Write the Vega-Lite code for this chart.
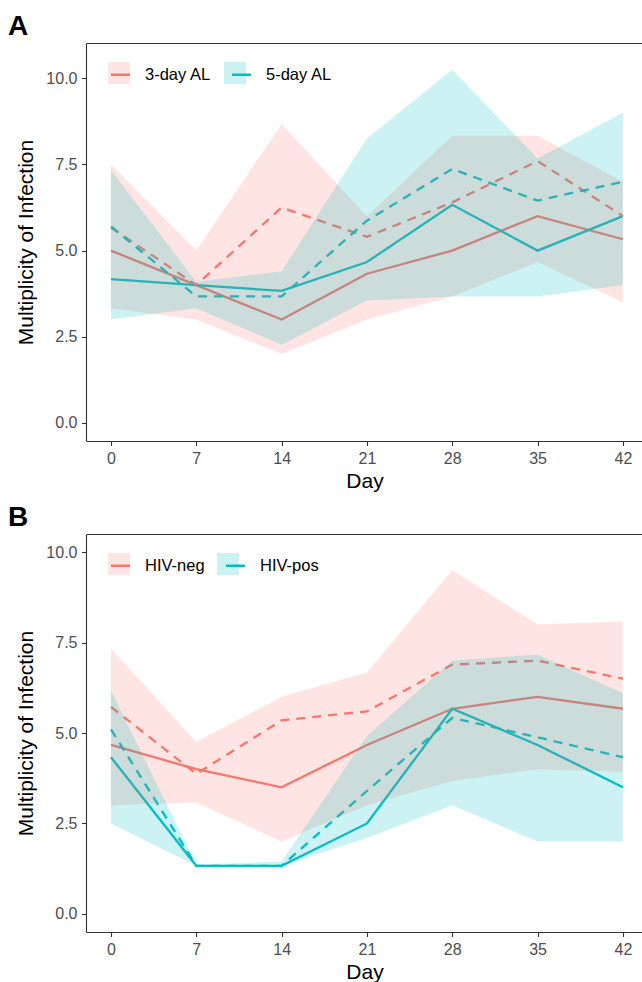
{
  "$schema": "https://vega.github.io/schema/vega-lite/v6.json",
  "padding": {"left": 8, "top": 13, "right": 0, "bottom": 0},
  "background": "white",
  "config": {
    "font": "Liberation Sans",
    "view": {"stroke": null},
    "axis": {
      "grid": false,
      "labelFont": "Liberation Sans",
      "labelFontSize": 16,
      "labelColor": "#4D4D4D",
      "labelPadding": 4.5,
      "tickColor": "#333333",
      "tickSize": 4.5,
      "tickWidth": 1.1,
      "domainColor": "#333333",
      "domainWidth": 1.1,
      "titleFont": "Liberation Sans",
      "titleFontSize": 21,
      "titleFontWeight": "normal",
      "titleColor": "#000000"
    },
    "title": {"font": "Liberation Sans", "fontSize": 28, "fontWeight": "bold", "color": "#000000", "anchor": "start", "frame": "group", "dx": -78, "offset": 2},
    "concat": {"spacing": 13}
  },
  "resolve": {
    "scale": {"stroke": "independent", "fill": "independent"},
    "legend": {"stroke": "independent", "fill": "independent"}
  },
  "datasets": {
    "a": [
      {"group": "3-day AL", "day": 0, "median": 5.0, "mean": 5.67, "lo": 3.33, "hi": 7.5},
      {"group": "3-day AL", "day": 7, "median": 4.0, "mean": 4.0, "lo": 3.0, "hi": 5.0},
      {"group": "3-day AL", "day": 14, "median": 3.0, "mean": 6.25, "lo": 2.0, "hi": 8.67},
      {"group": "3-day AL", "day": 21, "median": 4.33, "mean": 5.4, "lo": 3.0, "hi": 6.0},
      {"group": "3-day AL", "day": 28, "median": 5.0, "mean": 6.4, "lo": 3.67, "hi": 8.33},
      {"group": "3-day AL", "day": 35, "median": 6.0, "mean": 7.6, "lo": 4.67, "hi": 8.33},
      {"group": "3-day AL", "day": 42, "median": 5.33, "mean": 6.0, "lo": 3.5, "hi": 7.0},
      {"group": "5-day AL", "day": 0, "median": 4.17, "mean": 5.7, "lo": 3.0, "hi": 7.33},
      {"group": "5-day AL", "day": 7, "median": 4.0, "mean": 3.67, "lo": 3.33, "hi": 4.1},
      {"group": "5-day AL", "day": 14, "median": 3.83, "mean": 3.67, "lo": 2.27, "hi": 4.4},
      {"group": "5-day AL", "day": 21, "median": 4.67, "mean": 5.87, "lo": 3.55, "hi": 8.25},
      {"group": "5-day AL", "day": 28, "median": 6.33, "mean": 7.37, "lo": 3.67, "hi": 10.25},
      {"group": "5-day AL", "day": 35, "median": 5.0, "mean": 6.45, "lo": 3.67, "hi": 7.67},
      {"group": "5-day AL", "day": 42, "median": 6.0, "mean": 7.0, "lo": 4.0, "hi": 9.0}
    ],
    "b": [
      {"group": "HIV-neg", "day": 0, "median": 4.67, "mean": 5.72, "lo": 3.0, "hi": 7.33},
      {"group": "HIV-neg", "day": 7, "median": 4.0, "mean": 3.87, "lo": 3.08, "hi": 4.75},
      {"group": "HIV-neg", "day": 14, "median": 3.5, "mean": 5.35, "lo": 2.0, "hi": 6.0},
      {"group": "HIV-neg", "day": 21, "median": 4.67, "mean": 5.6, "lo": 3.0, "hi": 6.67},
      {"group": "HIV-neg", "day": 28, "median": 5.67, "mean": 6.89, "lo": 3.67, "hi": 9.5},
      {"group": "HIV-neg", "day": 35, "median": 6.0, "mean": 7.0, "lo": 4.0, "hi": 8.0},
      {"group": "HIV-neg", "day": 42, "median": 5.67, "mean": 6.5, "lo": 3.92, "hi": 8.08},
      {"group": "HIV-pos", "day": 0, "median": 4.33, "mean": 5.1, "lo": 2.5, "hi": 6.17},
      {"group": "HIV-pos", "day": 7, "median": 1.33, "mean": 1.33, "lo": 1.33, "hi": 1.36},
      {"group": "HIV-pos", "day": 14, "median": 1.33, "mean": 1.33, "lo": 1.33, "hi": 1.45},
      {"group": "HIV-pos", "day": 21, "median": 2.5, "mean": 3.4, "lo": 2.1, "hi": 4.92},
      {"group": "HIV-pos", "day": 28, "median": 5.67, "mean": 5.42, "lo": 3.0, "hi": 7.0},
      {"group": "HIV-pos", "day": 35, "median": 4.67, "mean": 4.88, "lo": 2.0, "hi": 7.17},
      {"group": "HIV-pos", "day": 42, "median": 3.5, "mean": 4.33, "lo": 2.0, "hi": 6.1}
    ]
  },
  "vconcat": [
    {
      "title": {"text": "A"},
      "width": 557,
      "height": 398,
      "data": {"name": "a"},
      "resolve": {"axis": {"x": "independent"}},
      "layer": [
        {
          "mark": {"type": "line", "strokeWidth": 2.3},
          "encoding": {
            "x": {"field": "day", "type": "quantitative", "scale": {"domain": [-2.05, 43.65], "nice": false, "zero": false},
                  "axis": {"orient": "top", "labels": false, "ticks": false, "title": null, "domain": true}},
            "y": {"field": "median", "type": "quantitative", "scale": {"domain": [-0.525, 11.025], "nice": false, "zero": false},
                  "axis": {"values": [0, 2.5, 5, 7.5, 10], "format": ".1f", "title": "Multiplicity of Infection", "titlePadding": 9}},
            "stroke": {"field": "group", "type": "nominal", "scale": {"range": ["#F8766D", "#00BFC4"]},
                       "legend": {"orient": "none", "legendX": 23.5, "legendY": 20.5, "direction": "horizontal", "title": null, "symbolType": "stroke", "symbolSize": 361, "symbolStrokeWidth": 2.5, "labelFontSize": 16.5, "labelColor": "#000000", "labelOffset": 13.5, "columnPadding": 15, "padding": 0}}
          }
        },
        {
          "mark": {"type": "line", "strokeWidth": 2.3, "strokeDash": [9, 7]},
          "encoding": {
            "x": {"field": "day", "type": "quantitative", "axis": null},
            "y": {"field": "mean", "type": "quantitative",
                  "axis": {"values": [0, 2.5, 5, 7.5, 10], "format": ".1f", "title": "Multiplicity of Infection", "titlePadding": 9}},
            "stroke": {"field": "group", "type": "nominal"}
          }
        },
        {
          "mark": {"type": "area", "opacity": 0.2},
          "encoding": {
            "x": {"field": "day", "type": "quantitative", "title": "Day",
                  "axis": {"values": [0, 7, 14, 21, 28, 35, 42], "titlePadding": 4}},
            "y": {"field": "lo", "type": "quantitative",
                  "axis": {"values": [0, 2.5, 5, 7.5, 10], "format": ".1f", "title": "Multiplicity of Infection", "titlePadding": 9}},
            "y2": {"field": "hi"},
            "fill": {"field": "group", "type": "nominal", "scale": {"domain": ["3-day AL", "5-day AL"], "range": ["#F8766D", "#00BFC4"]},
                     "legend": {"orient": "none", "legendX": 22, "legendY": 19, "direction": "horizontal", "title": null, "symbolType": "square", "symbolSize": 484, "symbolOpacity": 0.2, "symbolStrokeWidth": 0, "labelFontSize": 16.5, "labelOpacity": 0, "labelOffset": 12, "columnPadding": 15, "padding": 0}}
          }
        }
      ]
    },
    {
      "title": {"text": "B"},
      "width": 557,
      "height": 398,
      "data": {"name": "b"},
      "resolve": {"axis": {"x": "independent"}},
      "layer": [
        {
          "mark": {"type": "line", "strokeWidth": 2.3},
          "encoding": {
            "x": {"field": "day", "type": "quantitative", "scale": {"domain": [-2.05, 43.65], "nice": false, "zero": false},
                  "axis": {"orient": "top", "labels": false, "ticks": false, "title": null, "domain": true}},
            "y": {"field": "median", "type": "quantitative", "scale": {"domain": [-0.5, 10.5], "nice": false, "zero": false},
                  "axis": {"values": [0, 2.5, 5, 7.5, 10], "format": ".1f", "title": "Multiplicity of Infection", "titlePadding": 9}},
            "stroke": {"field": "group", "type": "nominal", "scale": {"range": ["#F8766D", "#00BFC4"]},
                       "legend": {"orient": "none", "legendX": 23.5, "legendY": 20.5, "direction": "horizontal", "title": null, "symbolType": "stroke", "symbolSize": 361, "symbolStrokeWidth": 2.5, "labelFontSize": 16.5, "labelColor": "#000000", "labelOffset": 13.5, "columnPadding": 15, "padding": 0}}
          }
        },
        {
          "mark": {"type": "line", "strokeWidth": 2.3, "strokeDash": [9, 7]},
          "encoding": {
            "x": {"field": "day", "type": "quantitative", "axis": null},
            "y": {"field": "mean", "type": "quantitative",
                  "axis": {"values": [0, 2.5, 5, 7.5, 10], "format": ".1f", "title": "Multiplicity of Infection", "titlePadding": 9}},
            "stroke": {"field": "group", "type": "nominal"}
          }
        },
        {
          "mark": {"type": "area", "opacity": 0.2},
          "encoding": {
            "x": {"field": "day", "type": "quantitative", "title": "Day",
                  "axis": {"values": [0, 7, 14, 21, 28, 35, 42], "titlePadding": 4}},
            "y": {"field": "lo", "type": "quantitative",
                  "axis": {"values": [0, 2.5, 5, 7.5, 10], "format": ".1f", "title": "Multiplicity of Infection", "titlePadding": 9}},
            "y2": {"field": "hi"},
            "fill": {"field": "group", "type": "nominal", "scale": {"domain": ["HIV-neg", "HIV-pos"], "range": ["#F8766D", "#00BFC4"]},
                     "legend": {"orient": "none", "legendX": 22, "legendY": 19, "direction": "horizontal", "title": null, "symbolType": "square", "symbolSize": 484, "symbolOpacity": 0.2, "symbolStrokeWidth": 0, "labelFontSize": 16.5, "labelOpacity": 0, "labelOffset": 12, "columnPadding": 15, "padding": 0}}
          }
        }
      ]
    }
  ]
}
